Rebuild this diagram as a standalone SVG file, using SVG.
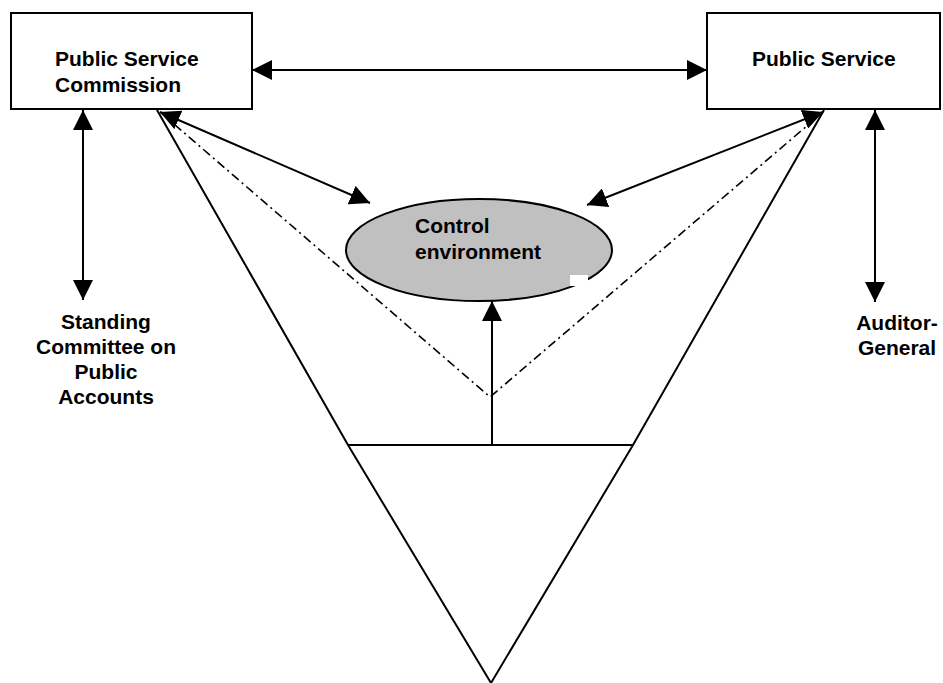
<svg xmlns="http://www.w3.org/2000/svg" width="943" height="683" viewBox="0 0 943 683">
<style>
.box{fill:#fff;stroke:#000;stroke-width:2}
.lbl{font-family:"Liberation Sans",Arial,sans-serif;font-weight:bold;font-size:21px;fill:#000}
.ln{stroke:#000;stroke-width:2;fill:none}
.dash{stroke:#000;stroke-width:1.6;fill:none;stroke-dasharray:9 4 2 4}
</style>
<defs>
<marker id="ah" viewBox="0 0 20 20" refX="20" refY="10" markerWidth="20" markerHeight="20" markerUnits="userSpaceOnUse" orient="auto-start-reverse">
<path d="M0,0 L20,10 L0,20 z" fill="#000"/>
</marker>
</defs>
<rect width="943" height="683" fill="#fff"/>
<g id="triangle">
<polyline class="ln" points="157,110 348,445 491,683 633,445 824,110"/>
<line class="ln" x1="348" y1="445" x2="633" y2="445"/>
</g>
<g id="psc">
<rect class="box" x="11" y="13" width="241" height="96"/>
<text class="lbl" x="55" y="66">Public Service</text>
<text class="lbl" x="55" y="92">Commission</text>
</g>
<g id="ps">
<rect class="box" x="707" y="13" width="233" height="96"/>
<text class="lbl" x="752" y="66">Public Service</text>
</g>
<g id="control">
<ellipse cx="479" cy="250" rx="133" ry="51" fill="#c0c0c0" stroke="#000" stroke-width="2"/>
<rect x="570" y="275" width="18" height="11" fill="#fff"/>
<text class="lbl" x="415" y="233">Control</text>
<text class="lbl" x="415" y="259">environment</text>
</g>
<g id="scopa">
<text class="lbl" text-anchor="middle" x="106" y="329">Standing</text>
<text class="lbl" text-anchor="middle" x="106" y="354">Committee on</text>
<text class="lbl" text-anchor="middle" x="106" y="379">Public</text>
<text class="lbl" text-anchor="middle" x="106" y="404">Accounts</text>
</g>
<g id="ag">
<text class="lbl" text-anchor="middle" x="897" y="330">Auditor-</text>
<text class="lbl" text-anchor="middle" x="897" y="355">General</text>
</g>
<g id="connectors">
<line class="ln" x1="252" y1="70" x2="707" y2="70" marker-start="url(#ah)" marker-end="url(#ah)"/>
<line class="ln" x1="83" y1="110" x2="83" y2="300" marker-start="url(#ah)" marker-end="url(#ah)"/>
<line class="ln" x1="875" y1="110" x2="875" y2="302" marker-start="url(#ah)" marker-end="url(#ah)"/>
<line class="ln" x1="160" y1="112" x2="370" y2="203" marker-start="url(#ah)" marker-end="url(#ah)"/>
<line class="ln" x1="823" y1="112" x2="587" y2="205" marker-start="url(#ah)" marker-end="url(#ah)"/>
<line class="ln" x1="492" y1="445" x2="492" y2="301" marker-end="url(#ah)"/>
<polyline class="dash" points="160,112 490,397 822,113"/>
</g>
</svg>
